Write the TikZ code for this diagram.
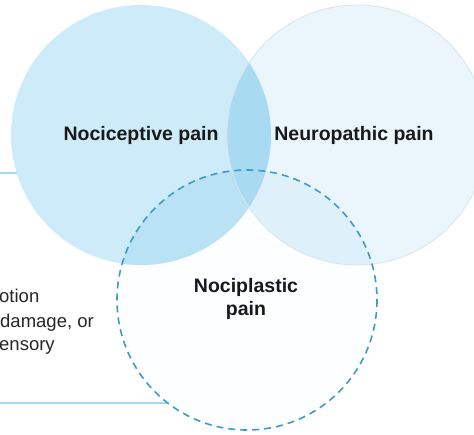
\documentclass[tikz,border=0pt]{standalone}
\usepackage{fontspec}
\setmainfont{Liberation Sans}
\definecolor{cA}{HTML}{CDEBF8}
\definecolor{cB}{HTML}{EAF6FC}
\definecolor{cAB}{HTML}{A8DAF2}
\definecolor{cAC}{HTML}{B9E2F4}
\definecolor{cBC}{HTML}{DEF1FA}
\definecolor{cC}{HTML}{FDFEFF}
\definecolor{dashblue}{HTML}{3D9BCB}
\definecolor{boxline}{HTML}{A7D8EE}
\definecolor{rimgrey}{HTML}{DCE4E8}
\begin{document}
\begin{tikzpicture}[x=1pt,y=-1pt,
  lbl/.style={font=\fontsize{19.5}{23}\selectfont\bfseries, align=center, inner sep=0pt, text=black!90},
  side/.style={font=\fontsize{18.5}{24}\selectfont, anchor=base west, inner sep=0pt, text=black!85},
  boxedge/.style={draw=boxline, line width=1.8pt}]
\useasboundingbox (0,0) rectangle (474,435);
\clip (0,0) rectangle (474,435);
\def\ca{(141,135) circle (130)}
\def\cb{(357,135) circle (130)}
\def\cc{(247,300) circle (130)}
% box edges behind circles
\coordinate (t0) at (0,173);
\coordinate (t1) at (40,173);
\coordinate (b0) at (0,403);
\coordinate (b1) at (168,403);
\draw[boxedge] (t0) -- (t1);
\draw[boxedge] (b0) -- (b1);
% fills
\fill[cC] \cc;
\fill[cA] \ca;
\fill[cB] \cb;
\begin{scope}\clip \ca; \fill[cAC] \cc; \end{scope}
\begin{scope}\clip \cb; \fill[cBC] \cc; \end{scope}
\begin{scope}\clip \ca; \fill[cAB] \cb; \end{scope}
\draw[rimgrey, line width=0.8pt] \cb;
\draw[dashblue, line width=1.6pt, dash pattern=on 7pt off 5pt] \cc;
% labels
\node[lbl] (noci) at (141,135) {Nociceptive pain};
\node[lbl] (neuro) at (354,135) {Neuropathic pain};
\node[lbl] (plast) at (246,299) {Nociplastic\\pain};
\node[side] (s1) at (-1,303) {otion};
\node[side] (s2) at (0,328) {damage, or};
\node[side] (s3) at (-1,351) {ensory};
\end{tikzpicture}
\end{document}
